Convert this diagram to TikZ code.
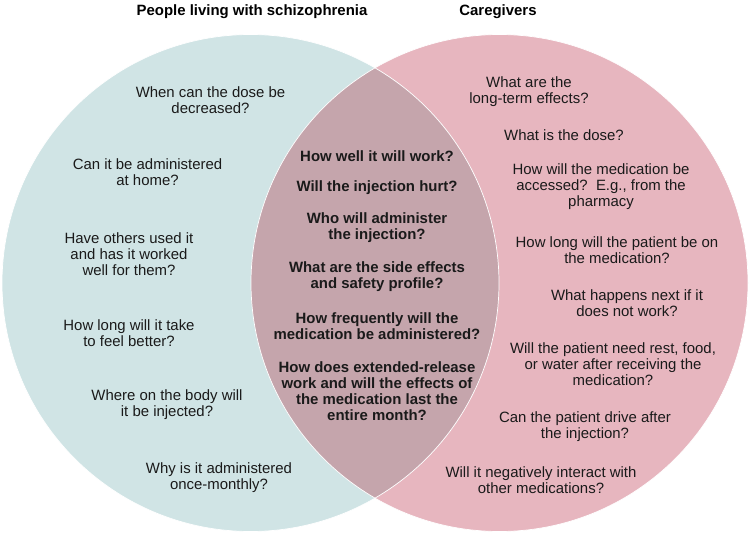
\documentclass[tikz,border=0pt]{standalone}
\usepackage{fontspec}
\setmainfont{Liberation Sans}
\usetikzlibrary{positioning}
\definecolor{patientFill}{HTML}{D0E4E5}
\definecolor{carerFill}{HTML}{E7B6BF}
\definecolor{sharedFill}{HTML}{C5A5AC}
\definecolor{textDark}{HTML}{1A1A1A}

\begin{document}
\begin{tikzpicture}[
      qtext/.style={
        align=center, text=textDark, inner sep=0pt,
        font=\fontsize{8.5pt}{9.1pt}\selectfont
      },
      qbold/.style={qtext, font=\fontsize{8.5pt}{9.1pt}\selectfont\bfseries},
      settitle/.style={qbold, text=black}
    ]
      \useasboundingbox (0,0) rectangle (15,10.7);

      % the two sets
      \coordinate (pc) at (5.01,5.04);
      \coordinate (cc) at (9.99,5.04);
      \fill[patientFill] (pc) circle (4.97);
      \fill[carerFill] (cc) circle (4.97);
      \begin{scope}
        \clip (pc) circle (4.97);
        \fill[sharedFill] (cc) circle (4.97);
      \end{scope}
      \draw[white, line width=0.4pt] (pc) circle (4.97);
      \draw[white, line width=0.4pt] (cc) circle (4.97);

      \node[settitle] (tp) at (5.04,10.46) {People living with schizophrenia};
      \node[settitle] (tc) at (9.96,10.46) {Caregivers};

      % patients only
      \node[qtext] (l1) at (4.21,8.70) {When can the dose be\\decreased?};
      \node[qtext] (l2) at (2.95,7.26) {Can it be administered\\at home?};
      \node[qtext] (l3) at (2.58,5.62) {Have others used it\\and has it worked\\well for them?};
      \node[qtext] (l4) at (2.58,4.04) {How long will it take\\to feel better?};
      \node[qtext] (l5) at (3.34,2.60) {Where on the body will\\it be injected?};
      \node[qtext] (l6) at (4.38,1.14) {Why is it administered\\once-monthly?};

      % both
      \node[qbold] (c1) at (7.54,7.58) {How well it will work?};
      \node[qbold] (c2) at (7.54,6.94) {Will the injection hurt?};
      \node[qbold] (c3) at (7.54,6.14) {Who will administer\\the injection?};
      \node[qbold] (c4) at (7.54,5.16) {What are the side effects\\and safety profile?};
      \node[qbold] (c5) at (7.54,4.18) {How frequently will the\\medication be administered?};
      \node[qbold] (c6) at (7.54,2.88) {How does extended-release\\work and will the effects of\\the medication last the\\entire month?};

      % caregivers only
      \node[qtext] (r1) at (10.58,8.86) {What are the\\long-term effects?};
      \node[qtext] (r2) at (11.28,8.00) {What is the dose?};
      \node[qtext] (r3) at (12.02,6.96) {How will the medication be\\accessed?\ \ E.g., from the\\pharmacy};
      \node[qtext] (r4) at (12.34,5.70) {How long will the patient be on\\the medication?};
      \node[qtext] (r5) at (12.54,4.64) {What happens next if it\\does not work?};
      \node[qtext] (r6) at (12.26,3.42) {Will the patient need rest, food,\\or water after receiving the\\medication?};
      \node[qtext] (r7) at (11.70,2.16) {Can the patient drive after\\the injection?};
      \node[qtext] (r8) at (10.82,1.10) {Will it negatively interact with\\other medications?};
    \end{tikzpicture}
\end{document}
